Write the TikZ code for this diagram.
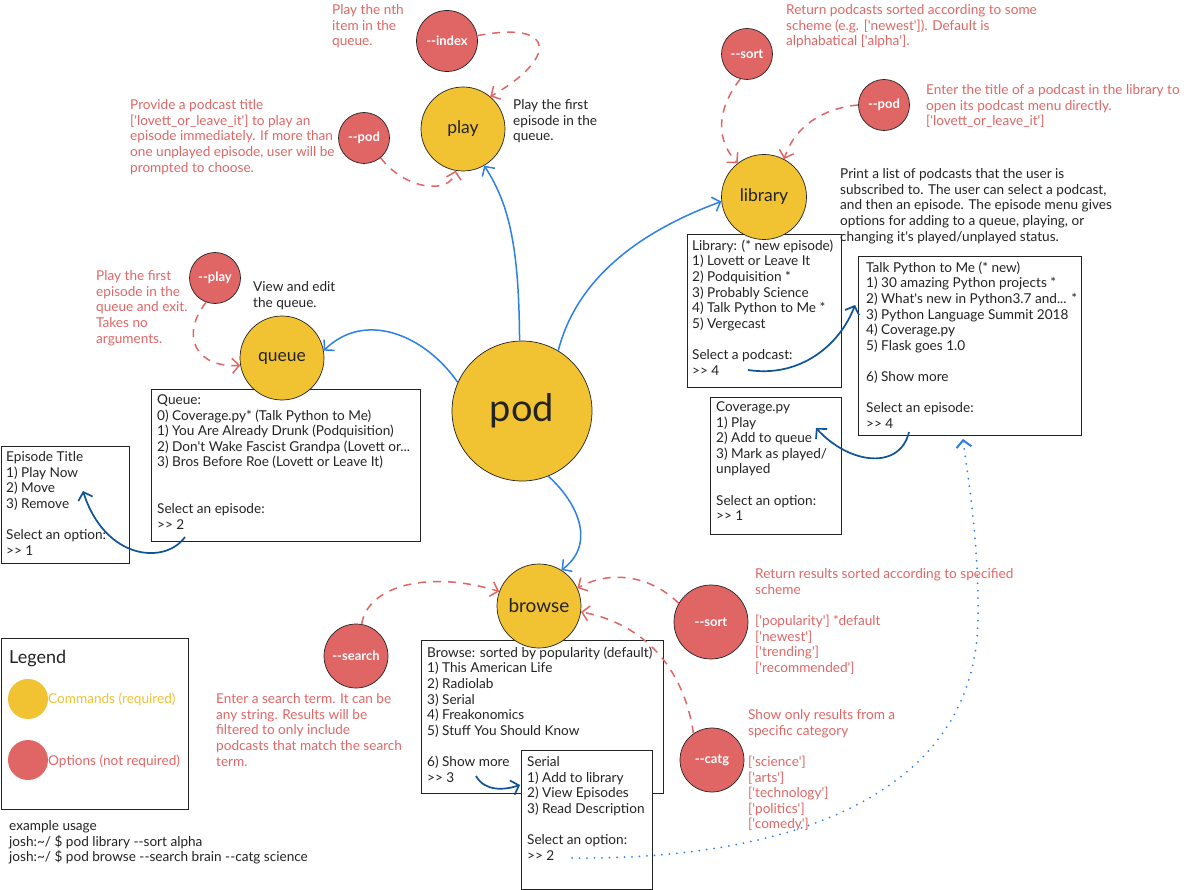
\documentclass[tikz,border=0pt]{standalone}
\usepackage{fontspec}
\newfontfamily\hand{Lato}
\usetikzlibrary{arrows.meta}
\definecolor{cmdY}{RGB}{241,194,50}
\definecolor{optR}{RGB}{224,102,102}
\definecolor{blueA}{RGB}{45,128,230}
\definecolor{blueB}{RGB}{14,84,150}
\definecolor{inkG}{RGB}{35,35,35}
\tikzset{
  cmd/.style={circle, draw=inkG, line width=0.7pt, fill=cmdY, inner sep=0pt, minimum size=#1, text=inkG, font=\hand\fontsize{17.5}{20}\selectfont},
  opt/.style={circle, draw=inkG, line width=0.7pt, fill=optR, inner sep=0pt, minimum size=#1, text=white, font=\hand\bfseries\fontsize{13}{15}\selectfont},
  txt/.style={anchor=north west, align=left, inner sep=0pt, text=inkG, font=\hand\fontsize{13.6}{15.6}\selectfont},
  rtxt/.style={txt, text=optR},
  panel/.style={draw=inkG, line width=0.9pt, fill=white, anchor=north west, inner sep=0pt},
  cmdlink/.style={blueA, line width=1.5pt, -{Straight Barb[length=7pt,width=15pt]}},
  boxlink/.style={blueB, line width=1.7pt, -{Straight Barb[length=7pt,width=15pt]}},
  optlink/.style={optR, line width=1.5pt, dash pattern=on 8pt off 7pt, -{Straight Barb[length=7pt,width=15pt]}},
  dotlink/.style={blueA, line width=2pt, line cap=round, dash pattern=on 0pt off 7.5pt, -{Straight Barb[length=7pt,width=15pt]}},
}
\begin{document}
\begin{tikzpicture}[x=1pt,y=-1pt]
\useasboundingbox (0,0) rectangle (1201,890);
\fill[white] (0,0) rectangle (1201,890);

% panels
\node[panel, minimum width=269, minimum height=152] (qbox) at (151,389) {};
\node[panel, minimum width=128, minimum height=117] (ebox) at (1,446) {};
\node[panel, minimum width=154, minimum height=153] (lbox) at (687,234) {};
\node[panel, minimum width=223, minimum height=179] (tbox) at (858,256) {};
\node[panel, minimum width=131, minimum height=137] (cbox) at (710,397) {};
\node[panel, minimum width=242, minimum height=153] (bbox) at (421,640) {};
\node[panel, minimum width=131, minimum height=139] (sbox) at (521,750) {};
\node[panel, minimum width=187, minimum height=171] (legbox) at (1,638) {};

% command circles
\node[cmd=140, font=\hand\fontsize{38}{40}\selectfont] (pod) at (522,411) {pod};
\node[cmd=84] (play) at (463,129) {play};
\node[cmd=84] (queue) at (282,358) {queue};
\node[cmd=85] (library) at (764,197) {library};
\node[cmd=84, font=\hand\fontsize{19}{20}\selectfont] (browse) at (539,606) {browse};

% option circles
\node[opt=61] (index) at (447,41) {--index};
\node[opt=51] (podp) at (364,138) {--pod};
\node[opt=51] (playq) at (215,278) {--play};
\node[opt=51] (sortl) at (747,54) {--sort};
\node[opt=51] (podl) at (884,105) {--pod};
\node[opt=64] (search) at (356,656) {--search};
\node[opt=74] (sortb) at (711,622) {--sort};
\node[opt=64] (catg) at (712,760) {--catg};

% legend
\node[anchor=west, inner sep=0pt, text=inkG, font=\hand\fontsize{18}{20}\selectfont] (legt) at (9,659) {Legend};
\node[circle, fill=cmdY, minimum size=40, inner sep=0pt] (legcmd) at (28,699) {};
\node[circle, fill=optR, minimum size=40, inner sep=0pt] (legopt) at (28,760) {};
\node[txt, anchor=west, text=cmdY] (legcmdt) at (48,699) {Commands (required)};
\node[txt, anchor=west, text=optR] (legoptt) at (48,761) {Options (not required)};

% panel texts
\node[txt] (qboxt) at (157,394.5) {Queue:\\0) Coverage.py* (Talk Python to Me)\\1) You Are Already Drunk (Podquisition)\\2) Don't Wake Fascist Grandpa (Lovett or...\\3) Bros Before Roe (Lovett or Leave It)\\[31.2pt]Select an episode:\\>> 2};
\node[txt] (eboxt) at (6,451.5) {Episode Title\\1) Play Now\\2) Move\\3) Remove\\[15.6pt]Select an option:\\>> 1};
\node[txt] (lboxt) at (692,239.5) {Library: (* new episode)\\1) Lovett or Leave It\\2) Podquisition *\\3) Probably Science\\4) Talk Python to Me *\\5) Vergecast\\[15.6pt]Select a podcast:\\>> 4};
\node[txt] (tboxt) at (866,261.5) {Talk Python to Me (* new)\\1) 30 amazing Python projects *\\2) What's new in Python3.7 and... *\\3) Python Language Summit 2018\\4) Coverage.py\\5) Flask goes 1.0\\[15.6pt]6) Show more\\[15.6pt]Select an episode:\\>> 4};
\node[txt] (cboxt) at (716,401.5) {Coverage.py\\1) Play\\2) Add to queue\\3) Mark as played/\\unplayed\\[15.6pt]Select an option:\\>> 1};
\node[txt] (bboxt) at (427,646.5) {Browse: sorted by popularity (default)\\1) This American Life\\2) Radiolab\\3) Serial\\4) Freakonomics\\5) Stuff You Should Know\\[15.6pt]6) Show more\\>> 3};
\node[txt] (sboxt) at (527,756.5) {Serial\\1) Add to library\\2) View Episodes\\3) Read Description\\[15.6pt]Select an option:\\>> 2};

% annotations
\node[rtxt] (idxt) at (332,4.5) {Play the nth\\item in the\\queue.};
\node[rtxt] (podpt) at (130,99.5) {Provide a podcast title\\{}['lovett\_or\_leave\_it'] to play an\\episode immediately. If more than\\one unplayed episode, user will be\\prompted to choose.};
\node[txt] (playt) at (513,99.5) {Play the first\\episode in the\\queue.};
\node[rtxt] (playqt) at (96,270.5) {Play the first\\episode in the\\queue and exit.\\Takes no\\arguments.};
\node[txt] (queuet) at (253,281.5) {View and edit\\the queue.};
\node[rtxt] (sortlt) at (786,4.5) {Return podcasts sorted according to some\\scheme (e.g. ['newest']). Default is\\alphabatical ['alpha'].};
\node[rtxt] (podlt) at (926,84.5) {Enter the title of a podcast in the library to\\open its podcast menu directly.\\{}['lovett\_or\_leave\_it']};
\node[txt] (libt) at (840,168.5) {Print a list of podcasts that the user is\\subscribed to. The user can select a podcast,\\and then an episode. The episode menu gives\\options for adding to a queue, playing, or\\changing it's played/unplayed status.};
\node[rtxt] (sortbt) at (755,568.5) {Return results sorted according to specified\\scheme\\[15.6pt]{}['popularity'] *default\\{}['newest']\\{}['trending']\\{}['recommended']};
\node[rtxt] (catgt) at (748,709.5) {Show only results from a\\specific category\\[15.6pt]{}['science']\\{}['arts']\\{}['technology']\\{}['politics']\\{}['comedy']};
\node[rtxt] (searcht) at (216,693.5) {Enter a search term. It can be\\any string. Results will be\\filtered to only include\\podcasts that match the search\\term.};
\node[txt] (usage) at (9,820.5) {example usage\\josh:\textasciitilde/ \$ pod library --sort alpha\\josh:\textasciitilde/ \$ pod browse --search brain --catg science};

% command links
\draw[cmdlink] (pod.92) .. controls (519,250) and (510,205) .. (play.-60);
\draw[cmdlink] (pod.59) .. controls (575,285) and (630,235) .. (library.186);
\draw[cmdlink] (pod.156) .. controls (425,335) and (365,310) .. (queue.10);
\draw[cmdlink] (pod.-68) .. controls (580,505) and (595,545) .. (browse.58);

% box links
\coordinate (qsel) at (185,537);
\coordinate (eend) at (83,491);
\coordinate (lsel) at (748,370);
\coordinate (tend) at (855,305);
\coordinate (tsel) at (909,432);
\coordinate (cend) at (816,428);
\coordinate (bsel) at (476,776);
\coordinate (send) at (520,785);
\coordinate (ssel) at (572,858);
\draw[boxlink] (qsel) .. controls (165,565) and (105,560) .. (eend);
\draw[boxlink] (lsel) .. controls (800,378) and (840,345) .. (tend);
\draw[boxlink] (tsel) .. controls (900,470) and (850,465) .. (cend);
\draw[boxlink] (bsel) .. controls (485,792) and (505,790) .. (send);
\draw[dotlink] (ssel) .. controls (800,860) and (975,790) .. (978,620) .. controls (979,540) and (968,480) .. ([xshift=-7pt,yshift=-3pt]tbox.south);

% option links
\draw[optlink] (index.10) .. controls (560,20) and (555,60) .. (play.50);
\draw[optlink] (podp.-50) .. controls (405,190) and (450,195) .. (play.-100);
\draw[optlink] (playq.-110) .. controls (180,335) and (195,368) .. (queue.190);
\draw[optlink] (sortl.-105) .. controls (716,110) and (716,140) .. (library.128);
\draw[optlink] (podl.180) .. controls (825,108) and (795,125) .. (library.62);
\draw[optlink] (search.80) .. controls (368,585) and (430,570) .. (browse.160);
\draw[optlink] (sortb.150) .. controls (650,575) and (610,570) .. (browse.25);
\draw[optlink] (catg.125) .. controls (685,675) and (650,625) .. (browse.-8);
\end{tikzpicture}
\end{document}
